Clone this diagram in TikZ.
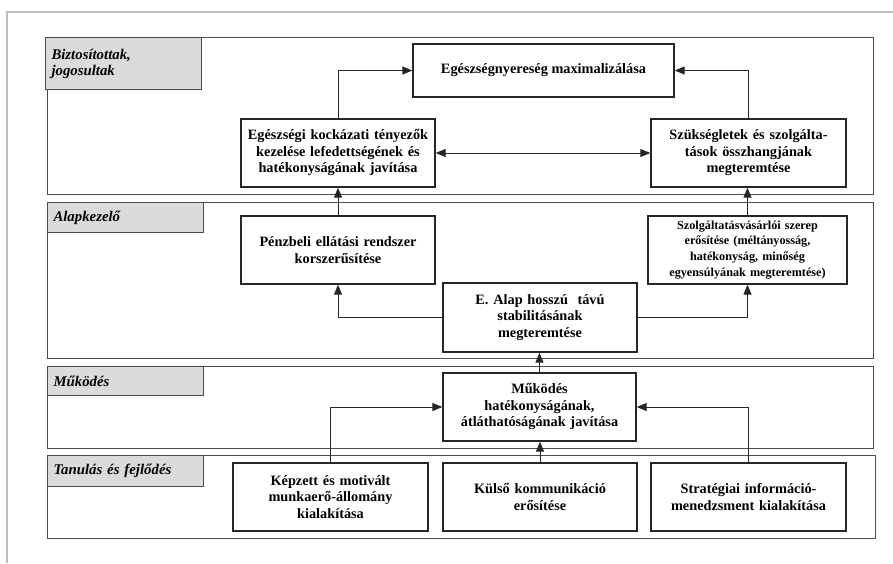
\documentclass[tikz,border=0pt]{standalone}
\usepackage{fontspec}
\setmainfont{Liberation Serif}
\usetikzlibrary{arrows.meta}
\tikzset{
  box/.style={draw=black!85, line width=1.3pt, fill=white, align=center, inner sep=1pt,
    font=\bfseries\fontsize{14.3}{16.5}\selectfont},
  smallbox/.style={box, inner sep=0pt, font=\bfseries\fontsize{12.2}{15.8}\selectfont},
  lane/.style={draw=black!70, line width=1pt},
  lanelabel/.style={draw=black!70, line width=1pt, fill=black!14, anchor=north west,
    text width=144pt, inner xsep=6pt, inner ysep=0pt, align=left,
    font=\bfseries\itshape\fontsize{14.8}{16}\selectfont},
  arr/.style={draw=black!85, line width=1pt, -{Triangle[length=10pt,width=8pt]}},
  darr/.style={draw=black!85, line width=1pt, {Triangle[length=10pt,width=8pt]}-{Triangle[length=10pt,width=8pt]}},
}
\begin{document}
\begin{tikzpicture}[x=1pt,y=-1pt]
\useasboundingbox (0,0) rectangle (893,563);
% outer frame
\draw[black!25, line width=2pt] (7,563) -- (7,12) -- (893,12);
% lanes
\draw[lane] (47,37) rectangle (873,194);
\draw[lane] (47,202) rectangle (873,358);
\draw[lane] (47,366) rectangle (873,448);
\draw[lane] (47,455) rectangle (875,538);
\node[lanelabel, minimum height=52pt] (l1) at (45,37) {Biztosítottak,\\jogosultak};
\node[lanelabel, minimum height=30pt] (l2) at (47,202) {Alapkezelő};
\node[lanelabel, minimum height=29pt] (l3) at (47,366) {Működés};
\node[lanelabel, minimum height=31pt] (l4) at (47,455) {Tanulás és fejlődés};
% boxes
\node[box, minimum width=261pt, minimum height=53pt] (gain) at (543.5,70.5) {Egészségnyereség maximalizálása};
\node[box, minimum width=194pt, minimum height=68pt, text width=192pt] (risk) at (338,153) {Egészségi kockázati tényezők\\kezelése lefedettségének és\\hatékonyságának javítása};
\node[box, minimum width=195pt, minimum height=68pt, text width=193pt] (needs) at (748.5,153) {Szükségletek és szolgálta-\\tások összhangjának\\megteremtése};
\node[box, minimum width=194pt, minimum height=68pt, text width=192pt] (cash) at (338,250) {Pénzbeli ellátási rendszer\\korszerűsítése};
\node[smallbox, minimum width=199pt, minimum height=68pt, text width=198pt] (purch) at (747.5,250) {Szolgáltatásvásárlói szerep\\erősítése (méltányosság,\\hatékonyság, minőség\\egyensúlyának megteremtése)};
\node[box, minimum width=194pt, minimum height=69pt, text width=192pt] (fund) at (540,317.5) {E. Alap hosszú\ \ távú\\stabilitásának\\megteremtése};
\node[box, minimum width=193pt, minimum height=68pt, text width=191pt] (oper) at (539.5,407) {Működés\\hatékonyságának,\\átláthatóságának javítása};
\node[box, minimum width=195pt, minimum height=68pt, text width=193pt] (staff) at (330.5,497) {Képzett és motivált\\munkaerő-állomány\\kialakítása};
\node[box, minimum width=194pt, minimum height=68pt, text width=192pt] (comm) at (540,497) {Külső kommunikáció\\erősítése};
\node[box, minimum width=195pt, minimum height=68pt, text width=193pt] (info) at (748.5,497) {Stratégiai információ-\\menedzsment kialakítása};
% connectors
\draw[arr] (risk.north) |- (gain.west);
\draw[arr] (needs.north) |- (gain.east);
\draw[darr] (risk.east) -- (needs.west);
\draw[arr] (cash.north) -- (risk.south);
\draw[arr] (purch.north) -- (purch.north |- needs.south);
\draw[arr] (fund.west) -| (cash.south);
\draw[arr] (fund.east) -| (purch.south);
\draw[arr] (oper.north) -- (oper.north |- fund.south);
\draw[arr] (staff.north) |- (oper.west);
\draw[arr] (comm.north) -- (comm.north |- oper.south);
\draw[arr] (info.north) |- (oper.east);
\end{tikzpicture}
\end{document}
